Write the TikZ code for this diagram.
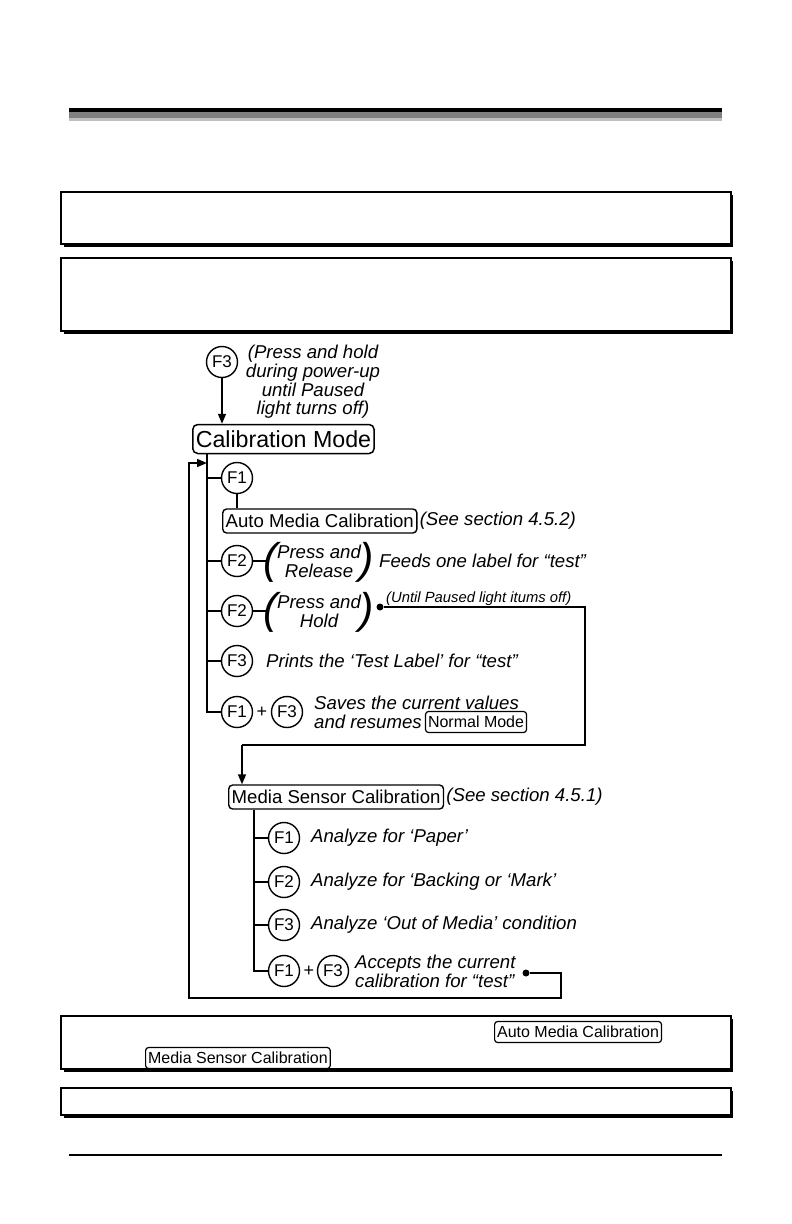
\documentclass[tikz,border=0pt]{standalone}
\usepackage{fontspec}
\setmainfont{Liberation Sans}
\usetikzlibrary{arrows.meta}
\begin{document}
\begin{tikzpicture}[x=1pt,y=-1pt,
  key/.style={circle,draw,line width=1.4pt,minimum size=31pt,inner sep=0pt,font=\fontsize{17}{17}\selectfont},
  bigbox/.style={draw,rounded corners=5pt,line width=1.5pt,inner xsep=3pt,inner ysep=3pt,minimum height=29pt,font=\fontsize{23.2}{23.2}\selectfont},
  mbox/.style={draw,rounded corners=4pt,line width=1.4pt,inner xsep=3pt,inner ysep=1pt,minimum height=24pt,font=\fontsize{18.6}{18.6}\selectfont},
  sbox/.style={draw,rounded corners=3pt,line width=1.2pt,inner xsep=2.5pt,inner ysep=1pt,minimum height=21pt,font=\fontsize{16}{16}\selectfont},
  itx/.style={font=\fontsize{18.6}{18.7}\selectfont\itshape,inner sep=0pt,anchor=west,align=left},
  ctx/.style={font=\fontsize{18.6}{18.7}\selectfont\itshape,inner sep=0pt,align=center},
  smx/.style={font=\fontsize{14.8}{14.8}\selectfont\itshape,inner sep=0pt,anchor=base west},
  par/.style={font=\fontsize{43}{43}\selectfont\itshape,inner sep=0pt},
  plus/.style={font=\fontsize{18}{18}\selectfont,inner sep=0pt},
  ln/.style={line width=1.5pt},
  arr/.style={line width=1.5pt,-{Triangle[length=10pt,width=8pt]}},
  dotn/.style={circle,fill,inner sep=0pt,minimum size=7pt},
  frm/.style={fill=white,draw,line width=1.2pt}
]
\useasboundingbox (0,0) rectangle (792,1224);

% header bar
\fill[black] (69,108) rectangle (722,112);
\fill[black!50] (69,112) rectangle (722,118);
\fill[black!25] (69,118) rectangle (722,121);

% framed boxes with shadow
\fill (64,195) rectangle (733,247);
\filldraw[frm] (61,192) rectangle (731,244);
\fill (64,261) rectangle (733,334);
\filldraw[frm] (61,258) rectangle (731,331);
\fill (64,1019) rectangle (733,1072);
\filldraw[frm] (61,1016) rectangle (731,1069);
\fill (64,1091) rectangle (733,1118);
\filldraw[frm] (61,1088) rectangle (731,1115);

% footer line
\draw[line width=1.2pt] (69,1155) -- (722,1155);

% ---------- top part ----------
\node[key] (k0) at (222,362) {F3};
\node[ctx] (t0) at (313,382) {(Press and hold\\during power-up\\until Paused\\light turns off)};
\node[bigbox,anchor=west] (cal) at (192,439) {Calibration Mode};
\draw[arr] (k0.south) -- (k0.south |- cal.north);

\coordinate (trx) at (207,0);

% F1 -> Auto Media Calibration
\node[key] (a1) at (237,478) {F1};
\node[mbox,anchor=west] (amc) at (222,521) {Auto Media Calibration};
\node[itx] (amct) at ([xshift=2pt]amc.east) {(See section 4.5.2)};
\draw[ln] (a1.south) -- (a1.south |- amc.north);

% F2 press and release
\node[key] (a2) at (237,561) {F2};
\node[par] (pl1) at (271,562) {(};
\node[ctx] (pr1) at (319,561) {Press and\\Release};
\node[par] (pr1r) at (367,562) {)};
\node[itx] (f2t) at (379,561) {Feeds one label for “test”};
\coordinate (pl1c) at (267,561);
\draw[ln] (a2.east) -- (pl1c);

% F2 press and hold
\node[key] (a3) at (237,611) {F2};
\node[par] (pl2) at (271,612) {(};
\node[ctx] (pr2) at (319,611) {Press and\\Hold};
\node[par] (pr2r) at (367,612) {)};
\coordinate (pl2c) at (267,611);
\draw[ln] (a3.east) -- (pl2c);
\node[dotn] (d1) at (380,607) {};
\node[smx] (ut) at (386,602) {(Until Paused light itums off)};

% F3 test label
\node[key] (a4) at (237,661) {F3};
\node[itx] (t4) at (266,661) {Prints the ‘Test Label’ for “test”};

% F1 + F3 save
\node[key] (a5) at (237,712) {F1};
\node[plus] (p5) at (262,712) {+};
\node[key] (a6) at (287,712) {F3};
\node[itx] (t5a) at (314,703) {Saves the current values};
\node[itx] (t5b) at (314,722) {and resumes};
\node[sbox,anchor=west] (nm) at ([xshift=3pt]t5b.east) {Normal Mode};

% trunk 1
\draw[ln] (cal.south -| trx) -- (a5.west -| trx) -- (a5.west);
\draw[ln] (a1.west -| trx) -- (a1.west);
\draw[ln] (a2.west -| trx) -- (a2.west);
\draw[ln] (a3.west -| trx) -- (a3.west);
\draw[ln] (a4.west -| trx) -- (a4.west);

% ---------- media sensor calibration ----------
\node[mbox,anchor=west] (msc) at (228,797) {Media Sensor Calibration};
\node[itx] (msct) at ([xshift=2pt]msc.east) {(See section 4.5.1)};

\coordinate (c1) at (585,607);
\coordinate (c2) at (585,745);
\coordinate (c3) at (242,745);
\draw[ln] (d1) -- (c1) -- (c2) -- (c3);
\draw[arr] (c3) -- (c3 |- msc.north);

\coordinate (tr2) at (254,0);
\node[key] (b1) at (284,838) {F1};
\node[itx] (s1) at (311,838) {Analyze for ‘Paper’};
\node[key] (b2) at (284,882) {F2};
\node[itx] (s2) at (311,882) {Analyze for ‘Backing or ‘Mark’};
\node[key] (b3) at (284,925) {F3};
\node[itx] (s3) at (311,925) {Analyze ‘Out of Media’ condition};
\node[key] (b4) at (284,971) {F1};
\node[plus] (p4) at (309,971) {+};
\node[key] (b5) at (333,971) {F3};
\node[itx] (s4) at (355,971) {Accepts the current\\calibration for “test”};
\node[dotn] (d2) at (526,973) {};

\draw[ln] (msc.south -| tr2) -- (b4.west -| tr2) -- (b4.west);
\draw[ln] (b1.west -| tr2) -- (b1.west);
\draw[ln] (b2.west -| tr2) -- (b2.west);
\draw[ln] (b3.west -| tr2) -- (b3.west);

% return loop
\coordinate (r1) at (561,973);
\coordinate (r2) at (561,998);
\coordinate (r3) at (189,998);
\coordinate (r4) at (189,463);
\draw[arr] (d2) -- (r1) -- (r2) -- (r3) -- (r4) -- (r4 -| trx);

% ---------- bottom boxes ----------
\node[sbox,anchor=west] (amc2) at (494,1032) {Auto Media Calibration};
\node[sbox,anchor=west] (msc2) at (145,1058) {Media Sensor Calibration};
\end{tikzpicture}
\end{document}
